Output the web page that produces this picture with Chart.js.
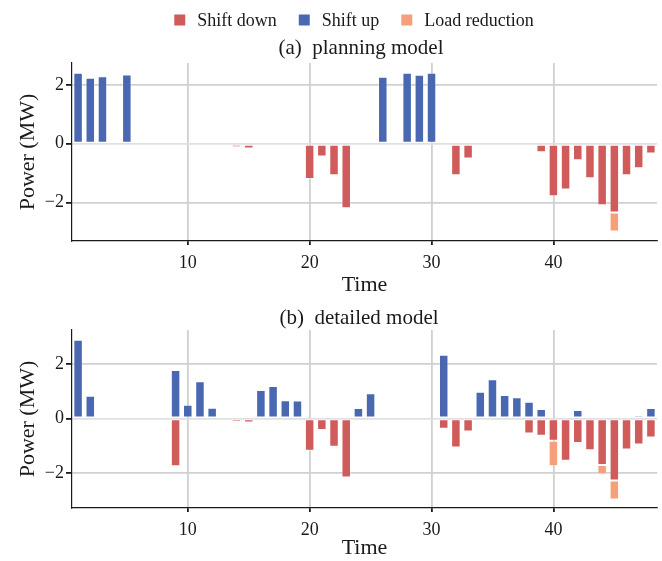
<!DOCTYPE html>
<html>
<head>
<meta charset="utf-8">
<script src="https://cdn.jsdelivr.net/npm/chart.js@4.4.1/dist/chart.umd.min.js"></script>
<style>
    body { margin: 0; background: #fff; }
    #wrap { position: relative; width: 662px; height: 561px; background: #fff; }
    canvas { position: absolute; left: 0; }
</style>
</head>
<body>
<div id="wrap">
    <canvas id="planningChart" width="662" height="300" style="top:0"></canvas>
    <canvas id="detailedChart" width="662" height="261" style="top:300px"></canvas>
</div>
<script>
// Time steps
const times = [1, 2, 3, 4, 5, 6, 7, 8, 9, 10, 11, 12, 13, 14, 15, 16, 17, 18, 19, 20, 21, 22, 23, 24,
    25, 26, 27, 28, 29, 30, 31, 32, 33, 34, 35, 36, 37, 38, 39, 40, 41, 42, 43, 44, 45, 46, 47, 48];
const timeTicks = [10, 20, 30, 40];
const powerTicks = [-2, 0, 2];

// (a) planning model, MW
const shiftDownA = [0, 0, 0, 0, 0, 0, 0, 0, 0, 0,
    0, 0, 0, -0.12, -0.16, 0, 0, 0, 0, -1.20,
    -0.43, -1.07, -2.19, 0, 0, 0, 0, 0, 0, 0,
    0, -1.07, -0.50, 0, 0, 0, 0, 0, -0.29, -1.78,
    -1.55, -0.56, -1.17, -2.09, -2.33, -1.07, -0.83, -0.33];
const shiftUpA = [2.41, 2.24, 2.29, 0, 2.35, 0, 0, 0, 0, 0,
    0, 0, 0, 0, 0, 0, 0, 0, 0, 0,
    0, 0, 0, 0, 0, 2.27, 0, 2.41, 2.34, 2.41,
    0, 0, 0, 0, 0, 0, 0, 0, 0, 0,
    0, 0, 0, 0, 0, 0, 0, 0];
const loadRedA = [0, 0, 0, 0, 0, 0, 0, 0, 0, 0,
    0, 0, 0, 0, 0, 0, 0, 0, 0, 0,
    0, 0, 0, 0, 0, 0, 0, 0, 0, 0,
    0, 0, 0, 0, 0, 0, 0, 0, 0, 0,
    0, 0, 0, 0, -0.65, 0, 0, 0];

// (b) detailed model, MW
const shiftDownB = [0, 0, 0, 0, 0, 0, 0, 0, -1.76, 0,
    0, 0, 0, -0.12, -0.15, 0, 0, 0, 0, -1.19,
    -0.42, -1.04, -2.17, 0, 0, 0, 0, 0, 0, 0,
    -0.38, -1.07, -0.48, 0, 0, 0, 0, -0.55, -0.64, -0.82,
    -1.55, -0.90, -1.17, -1.71, -2.28, -1.14, -0.96, -0.70];
const shiftUpB = [2.89, 0.83, 0, 0, 0, 0, 0, 0, 1.78, 0.50,
    1.37, 0.39, 0, 0, 0, 1.05, 1.19, 0.67, 0.66, 0,
    0, 0, 0, 0.38, 0.93, 0, 0, 0, 0, 0,
    2.34, 0, 0, 0.98, 1.44, 0.86, 0.78, 0.61, 0.35, 0,
    0, 0.31, 0, 0, 0, 0.05, 0.12, 0.38];
const loadRedB = [0, 0, 0, 0, 0, 0, 0, 0, 0, 0,
    0, 0, 0, 0, 0, 0, 0, 0, 0, 0,
    0, 0, 0, 0, 0, 0, 0, 0, 0, 0,
    0, 0, 0, 0, 0, 0, 0, 0, 0, -0.94,
    0, 0, 0, -0.34, -0.70, 0, 0, 0];

const SERIF = '"Liberation Serif", "Times New Roman", serif';
const INK = '#1a1a1a';
const colors = { down: '#cf5b5b', up: '#4a68b2', red: '#f5a07b' };

// Draws the panel title and (optionally) the shared legend
const panelText = {
    id: 'panelText',
    afterDraw(chart, args, opts) {
        const ctx = chart.ctx;
        ctx.save();
        ctx.fillStyle = INK;
        ctx.textBaseline = 'middle';
        ctx.textAlign = 'center';
        ctx.font = '21px ' + SERIF;
        ctx.fillText(opts.title, opts.titleX, opts.titleY);

        if (opts.legend) {
            ctx.font = '18px ' + SERIF;
            const items = chart.data.datasets.map(ds => ({ label: ds.label, color: ds.backgroundColor }));
            const box = 11, gap = 12, spacing = 22;
            let total = 0;
            items.forEach((it, i) => {
                it.w = ctx.measureText(it.label).width;
                total += box + gap + it.w + (i ? spacing : 0);
            });
            let x = opts.legendX - total / 2;
            ctx.textAlign = 'left';
            items.forEach(it => {
                ctx.fillStyle = it.color;
                ctx.fillRect(x, opts.legendY - box / 2, box, box);
                ctx.fillStyle = INK;
                ctx.fillText(it.label, x + box + gap, opts.legendY + 1);
                x += box + gap + it.w + spacing;
            });
        }
        ctx.restore();
    }
};

// only every 10th time step gets a grid line, tick mark and label
function isMajor(c) {
    return c.tick && timeTicks.includes(times[c.index]);
}

function makeChart(id, down, up, red, cfg) {
    const ctx = document.getElementById(id).getContext('2d');
    const barStyle = {
        borderColor: 'rgba(255,255,255,0.35)',
        borderWidth: 1,
        borderSkipped: false,
        categoryPercentage: 1,
        barPercentage: 0.78
    };
    return new Chart(ctx, {
        type: 'bar',
        data: {
            labels: times,
            datasets: [
                Object.assign({ label: 'Shift down', data: down, backgroundColor: colors.down }, barStyle),
                Object.assign({ label: 'Shift up', data: up, backgroundColor: colors.up }, barStyle),
                Object.assign({ label: 'Load reduction', data: red, backgroundColor: colors.red }, barStyle)
            ]
        },
        plugins: [panelText],
        options: {
            responsive: false,
            animation: false,
            layout: { padding: { top: cfg.padTop, right: 5, left: 0, bottom: 0 } },
            plugins: {
                legend: { display: false },
                tooltip: { enabled: false },
                panelText: cfg.text
            },
            scales: {
                x: {
                    stacked: true,
                    afterFit: scale => { scale.height = cfg.xHeight; },
                    grid: {
                        offset: false,
                        color: c => (isMajor(c) ? '#d0d0d0' : 'rgba(0,0,0,0)'),
                        tickColor: c => (isMajor(c) ? INK : 'rgba(0,0,0,0)'),
                        lineWidth: 1.8, tickLength: 4
                    },
                    border: { color: INK, width: 1.2 },
                    ticks: {
                        color: INK, padding: 7, autoSkip: false, maxRotation: 0,
                        font: { family: SERIF, size: 18 },
                        callback: (v, i) => (timeTicks.includes(times[i]) ? String(times[i]) : '')
                    },
                    title: {
                        display: true, text: 'Time', color: INK,
                        font: { family: SERIF, size: 22 },
                        padding: { top: 0, bottom: cfg.titlePad }
                    }
                },
                y: {
                    stacked: true,
                    min: cfg.yMin,
                    max: cfg.yMax,
                    afterFit: scale => { scale.width = 72; },
                    afterBuildTicks: scale => { scale.ticks = powerTicks.map(v => ({ value: v })); },
                    grid: {
                        color: c => (c.tick && c.tick.value === 0 ? '#e0e0e0' : '#d0d0d0'),
                        lineWidth: 1.8, tickColor: INK, tickLength: 6
                    },
                    border: { color: INK, width: 1.2 },
                    ticks: {
                        color: INK, padding: 2, font: { family: SERIF, size: 18 },
                        callback: v => (v < 0 ? '\u2212' + Math.abs(v) : String(v))
                    },
                    title: {
                        display: true, text: 'Power (MW)', color: INK,
                        font: { family: SERIF, size: 22 },
                        padding: { top: 15, bottom: 0 }
                    }
                }
            }
        }
    });
}

document.addEventListener('DOMContentLoaded', function() {
    makeChart('planningChart', shiftDownA, shiftUpA, loadRedA, {
        padTop: 63, xHeight: 59, titlePad: 2, yMin: -3.3, yMax: 2.74,
        text: { title: '(a)  planning model', titleX: 361, titleY: 48, legend: true, legendX: 354, legendY: 20 }
    });
    makeChart('detailedChart', shiftDownB, shiftUpB, loadRedB, {
        padTop: 30, xHeight: 53, titlePad: 0, yMin: -3.29, yMax: 3.25,
        text: { title: '(b)  detailed model', titleX: 359, titleY: 18, legend: false }
    });
});
</script>
</body>
</html>
